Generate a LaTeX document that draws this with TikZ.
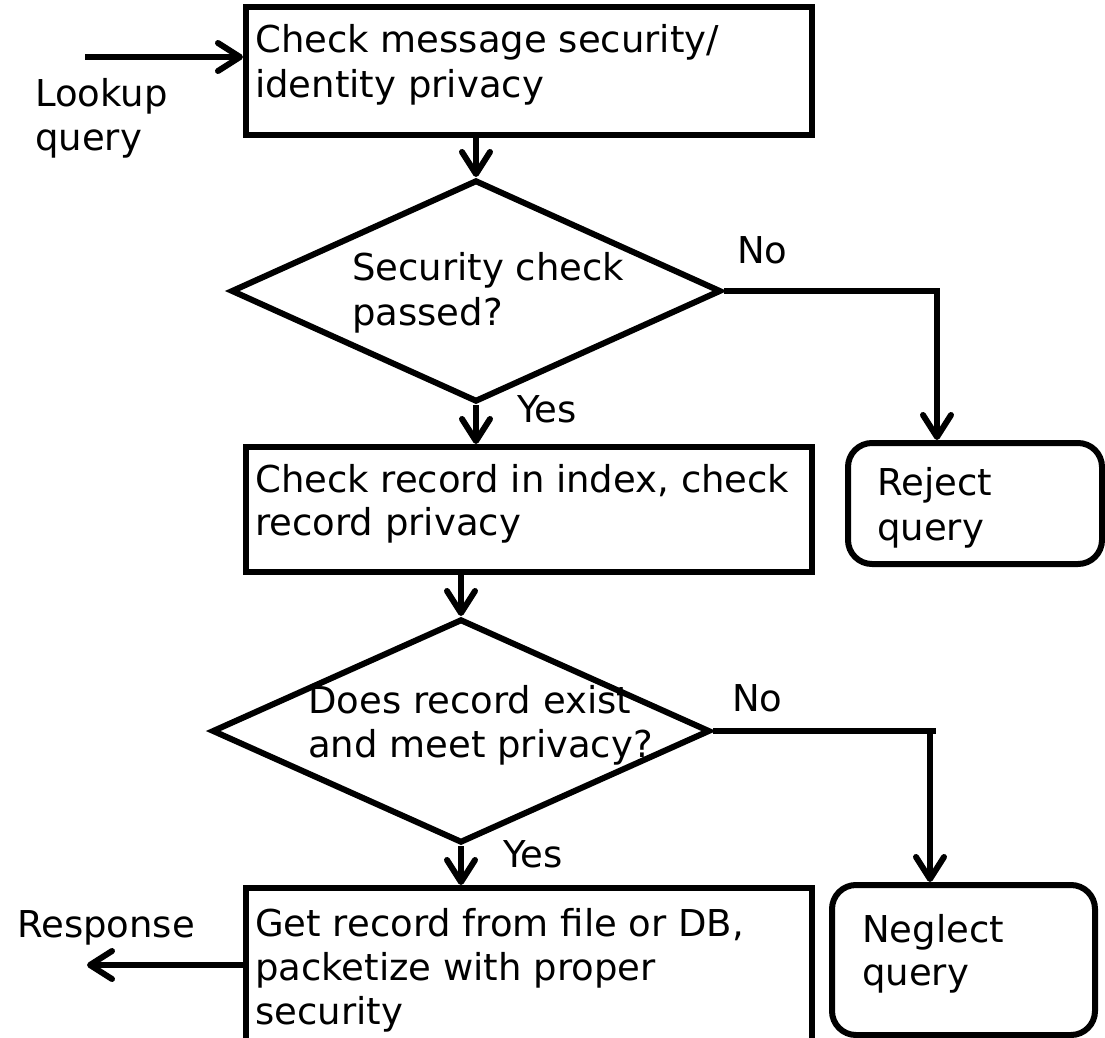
\documentclass[tikz,border=0pt]{standalone}
\usepackage{fontspec}
\setmainfont{DejaVu Sans}
\usetikzlibrary{arrows.meta,shapes.geometric}

\begin{document}
\begin{tikzpicture}[x=1pt,y=-1pt,
  boxs/.style={draw, rectangle, line width=6pt, inner sep=0pt},
  rbox/.style={boxs, rounded corners=24pt},
  decis/.style={draw, diamond, line width=6pt, inner sep=0pt, aspect=1},
  lbl/.style={anchor=base west, inner sep=0pt, font=\fontsize{37}{44}\selectfont},
  link/.style={line width=6pt},
  flow/.style={line width=6pt,
    -{Straight Barb[length=22pt,width=28pt,line cap=round,line join=round]}}]
\useasboundingbox (0,0) rectangle (1105,1038);
\clip (0,0) rectangle (1105,1038);

% process boxes, decisions and end states
\node[boxs, minimum width=566pt, minimum height=128pt] (b1) at (529,71) {};
\node[decis, minimum width=490pt, minimum height=222pt] (d1) at (476,291) {};
\node[boxs, minimum width=566pt, minimum height=125pt] (b2) at (529,509.5) {};
\node[rbox, minimum width=254pt, minimum height=121pt] (r1) at (975,503.5) {};
\node[decis, minimum width=498pt, minimum height=224pt] (d2) at (461,731) {};
\node[rbox, minimum width=263pt, minimum height=150pt] (n1) at (963.5,960) {};
\node[boxs, minimum width=566pt, minimum height=300pt] (b3) at (529,1038) {};

% free ends and bends of the connectors
\coordinate (inq) at (85,57);
\coordinate (outr) at (87,965);
\coordinate (c1) at (937,0);
\coordinate (c2) at (930,0);
\coordinate (c2end) at (936,0);

% connectors
\draw[flow] (inq) -- (inq -| b1.west);
\draw[flow] (b1.south -| d1.north) -- (d1.north);
\draw[flow] (d1.east) -| (c1 |- r1.north);
\draw[flow] (d1.south) -- (d1.south |- b2.north);
\draw[flow] (b2.south -| d2.north) -- (d2.north);
\draw[link] (d2.east) -- (d2.east -| c2end);
\draw[flow] (c2 |- d2.east) -- (c2 |- n1.north);
\draw[flow] (d2.south) -- (d2.south |- b3.north);
\draw[flow] (b3.west |- outr) -- (outr);

% texts
\node[lbl] (tin1) at (35,107) {Lookup};
\node[lbl] (tin2) at (35,150) {query};
\node[lbl] (tb1a) at (255,53) {Check message security/};
\node[lbl] (tb1b) at (255,98) {identity privacy};
\node[lbl] (td1a) at (352,280) {Security check};
\node[lbl] (td1b) at (352,325) {passed?};
\node[lbl] (tno1) at (737,263) {No};
\node[lbl] (tyes1) at (517,422) {Yes};
\node[lbl] (tb2a) at (255,492) {Check record in index, check};
\node[lbl] (tb2b) at (255,535) {record privacy};
\node[lbl] (tr1a) at (877,495) {Reject};
\node[lbl] (tr1b) at (877,540) {query};
\node[lbl] (td2a) at (308,713) {Does record exist};
\node[lbl] (td2b) at (308,757) {and meet privacy?};
\node[lbl] (tno2) at (732,711) {No};
\node[lbl] (tyes2) at (503,867) {Yes};
\node[lbl] (tb3a) at (255,936) {Get record from file or DB,};
\node[lbl] (tb3b) at (255,980) {packetize with proper};
\node[lbl] (tb3c) at (255,1024) {security};
\node[lbl] (tn1a) at (862,942) {Neglect};
\node[lbl] (tn1b) at (862,985) {query};
\node[lbl] (tout) at (17,937) {Response};
\end{tikzpicture}
\end{document}
